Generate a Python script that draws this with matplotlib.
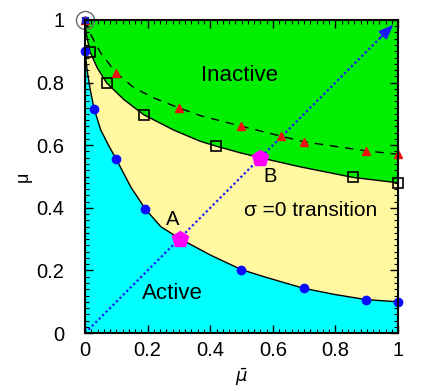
import matplotlib
matplotlib.use("Agg")
import matplotlib.pyplot as plt
from matplotlib.ticker import MultipleLocator

plt.rcParams['font.family'] = ['Liberation Sans', 'DejaVu Sans']

# Active / sigma=0 boundary (solid line)
active_x = [0.0, 0.008, 0.018, 0.029, 0.050, 0.075, 0.099, 0.146, 0.192, 0.242, 0.302,
            0.401, 0.499, 0.572, 0.699, 0.800, 0.898, 1.0]
active_y = [0.90, 0.83, 0.77, 0.717, 0.649, 0.600, 0.557, 0.467, 0.397, 0.340, 0.302,
            0.249, 0.203, 0.180, 0.143, 0.123, 0.107, 0.100]
# sigma=0 / Inactive boundary (solid line)
inact_x = [0.0, 0.005, 0.016, 0.039, 0.069, 0.125, 0.188, 0.284, 0.367, 0.419, 0.495,
           0.560, 0.687, 0.857, 1.0]
inact_y = [1.0, 0.95, 0.898, 0.847, 0.799, 0.745, 0.697, 0.648, 0.613, 0.597, 0.576,
           0.560, 0.531, 0.497, 0.480]
# dashed curve
dash_x = [0.0, 0.02, 0.05, 0.099, 0.157, 0.220, 0.300, 0.370, 0.498, 0.626, 0.699, 0.898, 1.0]
dash_y = [1.0, 0.95, 0.895, 0.831, 0.783, 0.751, 0.719, 0.694, 0.661, 0.629, 0.611, 0.582, 0.571]

# markers
circ_x = [0.0, 0.029, 0.099, 0.192, 0.499, 0.699, 0.898, 1.0]
circ_y = [0.90, 0.717, 0.557, 0.397, 0.203, 0.143, 0.107, 0.100]
sq_x = [0.016, 0.069, 0.188, 0.419, 0.857, 1.0]
sq_y = [0.898, 0.799, 0.697, 0.597, 0.497, 0.480]
tri_x = [0.0, 0.099, 0.300, 0.498, 0.626, 0.699, 0.898, 1.0]
tri_y = [1.0, 0.831, 0.719, 0.661, 0.629, 0.611, 0.582, 0.571]
pent_x = [0.302, 0.560]
pent_y = [0.302, 0.560]
pent_labels = ["A", "B"]

tick_vals = [0, 0.2, 0.4, 0.6, 0.8, 1.0]
tick_labels = ['0', '0.2', '0.4', '0.6', '0.8', '1']

fig = plt.figure(figsize=(4.36, 3.91), dpi=100)
ax = fig.add_axes([0.195, 0.148, 0.718, 0.801])
ax.set_xlim(0, 1)
ax.set_ylim(0, 1)

yellow = '#fff8a0'
ax.set_facecolor(yellow)
ax.fill(active_x + [1.0, 0.0], active_y + [0.0, 0.0], color='#00ffff', lw=0, zorder=1)
ax.fill(inact_x + [1.0, 0.0], inact_y + [1.0, 1.0], color='#00ee00', lw=0, zorder=1)

ax.plot(active_x, active_y, color='black', lw=1.0, zorder=3)
ax.plot(inact_x, inact_y, color='black', lw=1.0, zorder=3)
ax.plot(dash_x, dash_y, color='black', lw=1.0, ls=(0, (6, 5)), zorder=3)

# diagonal dotted line with arrow
ax.plot([0, 0.965], [0, 0.965], color='#1a1aff', lw=1.6, ls=(0, (1, 1.2)), zorder=3)
ax.annotate('', xy=(0.985, 0.985), xytext=(0.94, 0.94),
            arrowprops=dict(arrowstyle='-|>,head_length=0.9,head_width=0.35',
                            color='#1a1aff', lw=1.2, shrinkA=0, shrinkB=0), zorder=4)

ax.plot(circ_x, circ_y, 'o', color='#0a0aff', ms=6, zorder=5, clip_on=False)
ax.plot(sq_x, sq_y, 's', mfc='none', mec='black', mew=1.2, ms=7, zorder=5, clip_on=False)
ax.plot(tri_x, tri_y, '^', color='#ee1111', ms=5.5, zorder=5, clip_on=False)
ax.plot([0.0], [1.0], 'o', mfc='none', mec='#666666', mew=1.0, ms=13, zorder=6, clip_on=False)
ax.plot([0.0], [1.0], 's', color='#2222cc', ms=4, zorder=5, clip_on=False)
ax.plot(pent_x, pent_y, 'p', color='#ff00ff', ms=12, zorder=6, clip_on=False)

ax.text(pent_x[0] - 0.022, pent_y[0] + 0.062, pent_labels[0], fontsize=14.5, ha='center', va='center', zorder=7)
ax.text(pent_x[1] + 0.031, pent_y[1] - 0.06, pent_labels[1], fontsize=14.5, ha='center', va='center', zorder=7)
ax.text(0.495, 0.824, "Inactive", fontsize=16, ha='center', va='center', zorder=7)
ax.text(0.278, 0.125, "Active", fontsize=16, ha='center', va='center', zorder=7)
ax.text(0.72, 0.39, "σ =0 transition", fontsize=15, ha='center', va='center', zorder=7)

ax.set_xticks(tick_vals, tick_labels)
ax.set_yticks(tick_vals, tick_labels)
ax.xaxis.set_minor_locator(MultipleLocator(0.02))
ax.yaxis.set_minor_locator(MultipleLocator(0.02))
ax.tick_params(which='both', direction='in', top=True, right=True, labelsize=14.5, zorder=8)
ax.tick_params(which='major', length=6, width=1.0)
ax.tick_params(axis='x', which='major', pad=6)
ax.tick_params(axis='y', which='major', pad=15)
ax.tick_params(which='minor', length=3, width=0.8)
for s in ax.spines.values():
    s.set_linewidth(1.5)
    s.set_zorder(8)

ax.set_xlabel(r'$\bar{\mu}$', fontsize=13, labelpad=4)
ax.set_ylabel('μ', fontsize=13, labelpad=3)

fig.savefig('out.png', dpi=100)
